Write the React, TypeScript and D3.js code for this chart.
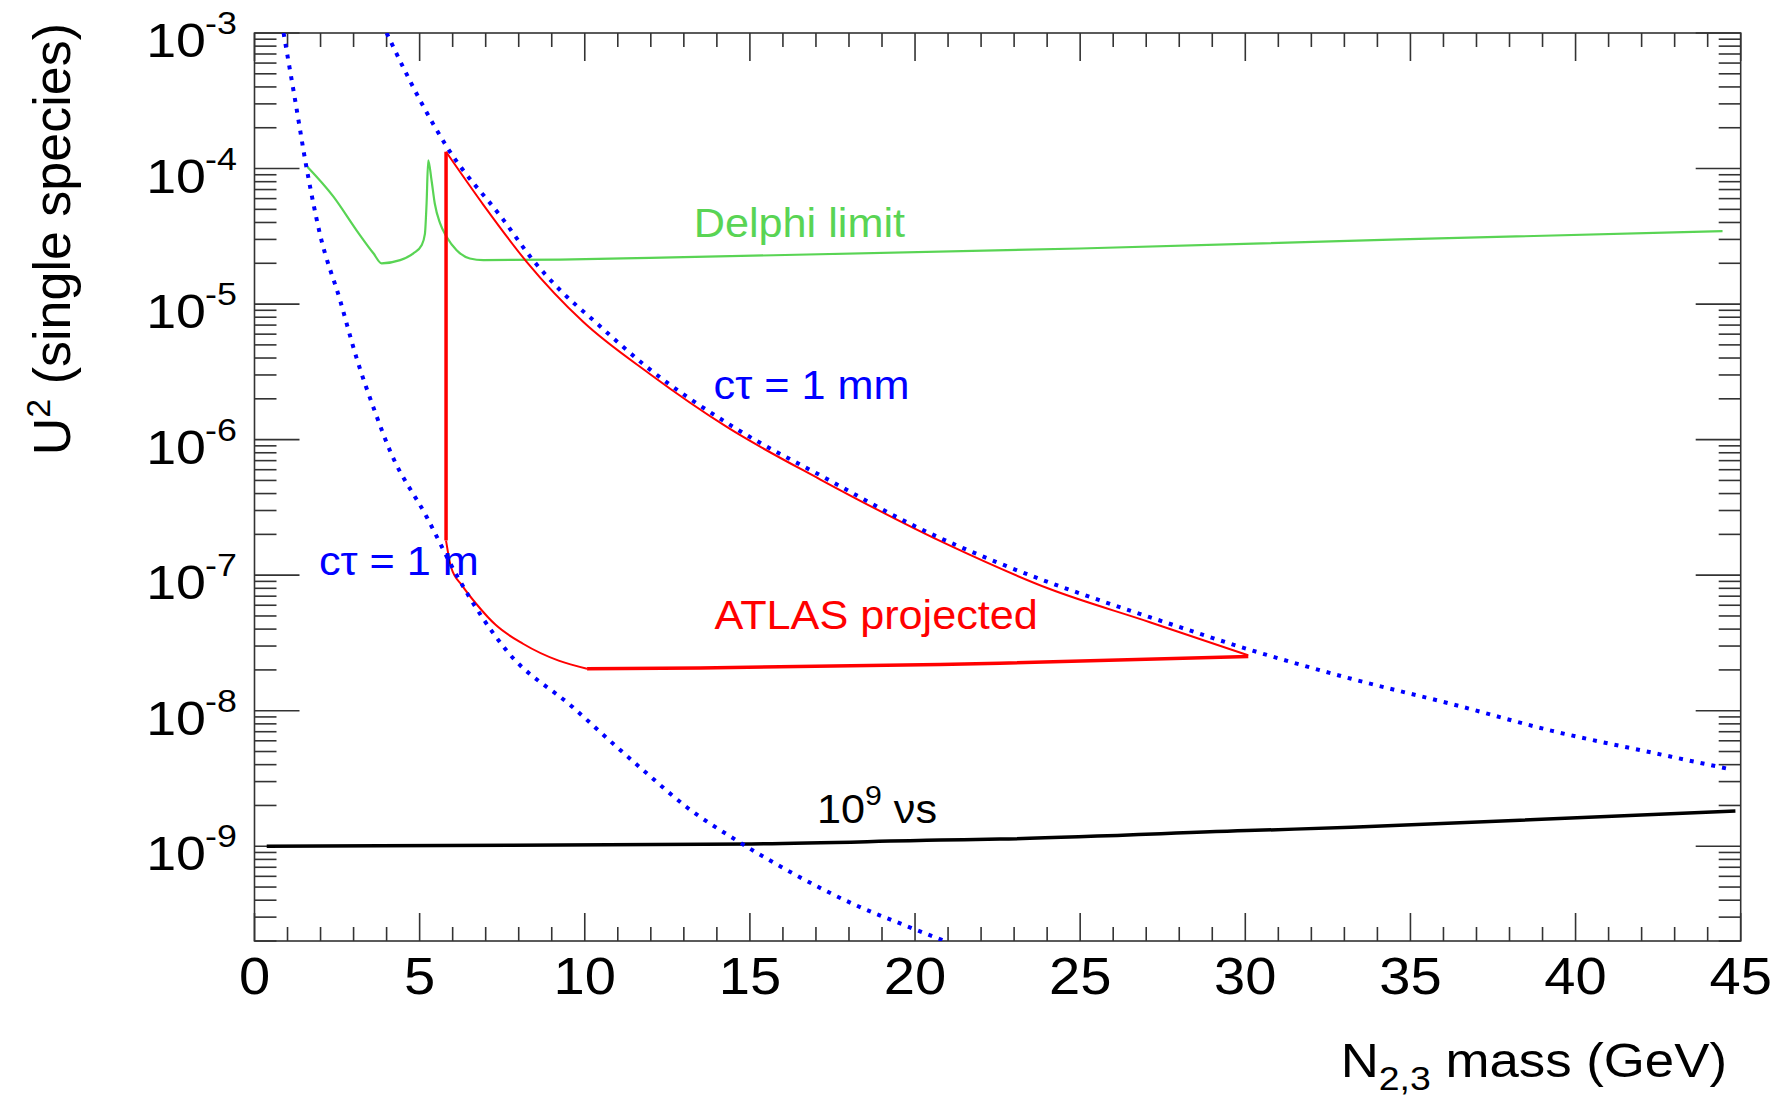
import React from "react";
import * as d3 from "d3";

// heavy neutral lepton sensitivity, U^2 vs mass (log y)
const W = 1787;
const H = 1102;

const xTickLabels = [0, 5, 10, 15, 20, 25, 30, 35, 40, 45];
const yTickExponents = [-3, -4, -5, -6, -7, -8, -9];

// [mass GeV, U^2]
const ctau1m: [number, number][] = [
  [0.88, 1.0e-3], [1.23, 3.2e-4], [1.58, 1.0e-4], [1.98, 3.3e-5],
  [2.59, 1.07e-5], [3.09, 4.0e-6], [3.65, 1.6e-6], [4.1, 8.3e-7],
  [5.21, 2.7e-7], [6.12, 1.0e-7], [7.62, 2.8e-8], [9.64, 1.06e-8],
  [10.97, 5.4e-9], [11.91, 3.4e-9], [13.09, 1.94e-9], [14.61, 1.1e-9],
  [16.33, 6.25e-10], [18.18, 3.7e-10], [19.59, 2.67e-10], [20.9, 2.0e-10],
];

const ctau1mm: [number, number][] = [
  [4.0, 1.0e-3], [5.01, 3.2e-4], [5.82, 1.45e-4], [7.53, 4.2e-5],
  [8.44, 2.1e-5], [9.25, 1.27e-5], [10.26, 7.6e-6], [11.87, 3.45e-6],
  [14.5, 1.24e-6], [17.32, 5.15e-7], [19.9, 2.36e-7], [22.57, 1.22e-7],
  [25.61, 6.5e-8], [27.11, 4.9e-8], [30.17, 2.8e-8], [33.21, 1.72e-8],
  [36.25, 1.12e-8], [39.29, 7.1e-9], [42.33, 4.9e-9], [44.68, 3.7e-9],
];

const atlasUpper: [number, number][] = [
  [5.8, 1.33e-4], [6.93, 5.4e-5], [8.24, 2.05e-5], [9.95, 7.4e-6],
  [11.97, 3.05e-6], [14.3, 1.24e-6], [17.12, 5.1e-7], [21.06, 1.65e-7],
  [24.08, 7.9e-8], [27.11, 4.5e-8], [30.09, 2.56e-8],
];

const atlasEdge: [number, number][] = [
  [5.8, 1.33e-4], [5.8, 1.8e-7],
];

const atlasLower: [number, number][] = [
  [5.8, 1.8e-7], [5.95, 1.15e-7], [6.3, 8.3e-8], [6.75, 6.0e-8],
  [7.3, 4.3e-8], [8.13, 3.12e-8], [9.21, 2.34e-8], [10.07, 2.04e-8],
];

const atlasFlat: [number, number][] = [
  [10.07, 2.04e-8], [13.49, 2.07e-8], [20.76, 2.19e-8], [22.57, 2.24e-8],
  [30.09, 2.51e-8],
];

const delphi: [number, number][] = [
  [1.6, 1.03e-4], [2.39, 6.2e-5], [3.09, 3.5e-5], [3.6, 2.37e-5],
  [3.85, 2.0e-5], [4.41, 2.11e-5], [4.81, 2.37e-5], [5.06, 2.72e-5],
  [5.16, 3.3e-5], [5.21, 5.5e-5], [5.26, 1.15e-4], [5.36, 8.2e-5],
  [5.46, 5.5e-5], [5.62, 3.94e-5], [5.82, 3.13e-5], [6.12, 2.5e-5],
  [6.52, 2.17e-5], [6.93, 2.11e-5], [9.25, 2.13e-5], [11.97, 2.19e-5],
  [24.99, 2.57e-5], [34.68, 3.0e-5], [44.45, 3.45e-5],
];

const nu1e9: [number, number][] = [
  [0.37, 1.0e-9], [3.8, 1.01e-9], [15.04, 1.04e-9], [20.76, 1.11e-9],
  [22.57, 1.13e-9], [30.3, 1.31e-9], [33.21, 1.38e-9], [44.84, 1.82e-9],
];

const FONT = "'Liberation Sans', Arial, Helvetica, sans-serif";

const SText = ({ x, y, size, sx = 1, anchor = "start", fill = "#000", children }: any) => (
  <text
    transform={`translate(${x},${y}) scale(${sx},1)`}
    fontSize={size}
    textAnchor={anchor}
    fill={fill}
    fontFamily={FONT}
  >
    {children}
  </text>
);

const App = () => {
  const left = 254.5, right = 1740.7, top = 33, bottom = 941;

  const x = d3.scaleLinear().domain([0, 45]).range([left, right]);
  const y = d3.scaleLog().domain([2e-10, 1e-3]).range([bottom, top]);

  const line = d3
    .line<[number, number]>()
    .x((d) => x(d[0]))
    .y((d) => y(d[1]))
    .curve(d3.curveMonotoneX);
  const straight = d3
    .line<[number, number]>()
    .x((d) => x(d[0]))
    .y((d) => y(d[1]));

  const yTicks = y.ticks().filter((v) => v <= 1e-3 && v >= 2e-10);
  const isMajor = (v: number) => Math.abs(Math.log10(v) - Math.round(Math.log10(v))) < 1e-6;
  const xTicks = d3.range(0, 46);

  const axisColor = "#333";
  const dots = { stroke: "#0000ff", strokeWidth: 4, strokeDasharray: "4 7" };

  return (
    <svg
      width={W}
      height={H}
      style={{ position: "absolute", left: 0, top: 0, display: "block", background: "#fff" }}
    >
      <defs>
        <clipPath id="plotArea">
          <rect x={left} y={top} width={right - left} height={bottom - top} />
        </clipPath>
      </defs>
      <rect width={W} height={H} fill="#fff" />

      {/* frame + ticks */}
      <g stroke={axisColor} strokeWidth={1.6} fill="none">
        <rect x={left} y={top} width={right - left} height={bottom - top} />
        {yTicks.map((v, i) => {
          const len = isMajor(v) ? 45 : 22;
          return (
            <g key={"y" + i}>
              <line x1={left} x2={left + len} y1={y(v)} y2={y(v)} />
              <line x1={right} x2={right - len} y1={y(v)} y2={y(v)} />
            </g>
          );
        })}
        {xTicks.map((v) => {
          const len = v % 5 === 0 ? 28 : 14;
          return (
            <g key={"x" + v}>
              <line x1={x(v)} x2={x(v)} y1={bottom} y2={bottom - len} />
              <line x1={x(v)} x2={x(v)} y1={top} y2={top + len} />
            </g>
          );
        })}
      </g>

      {/* tick labels */}
      {xTickLabels.map((v) => (
        <SText key={"xl" + v} x={x(v)} y={994} size={51} sx={1.1} anchor="middle">
          {v}
        </SText>
      ))}
      {yTickExponents.map((k) => (
        <g key={"yl" + k}>
          <SText x={206} y={y(Math.pow(10, k)) + 24} size={48} sx={1.12} anchor="end">
            10
          </SText>
          <SText x={205} y={y(Math.pow(10, k)) + 1} size={32} sx={1.12}>
            {String(k)}
          </SText>
        </g>
      ))}

      {/* axis titles */}
      <SText x={1727} y={1077} size={48} sx={1.1} anchor="end">
        N<tspan fontSize={34} dy={13}>2,3</tspan>
        <tspan dy={-13}> mass (GeV)</tspan>
      </SText>
      <text
        transform="translate(70,23) rotate(-90)"
        fontSize={52}
        textAnchor="end"
        fontFamily={FONT}
        fill="#000"
      >
        U<tspan fontSize={34} dy={-20}>2</tspan>
        <tspan dy={20}> (single species)</tspan>
      </text>

      {/* curves */}
      <g clipPath="url(#plotArea)" fill="none">
        <path d={line(nu1e9) || ""} stroke="#000" strokeWidth={3.5} />
        <path d={line(delphi) || ""} stroke="#59d454" strokeWidth={2.2} />
        <path d={line(atlasUpper) || ""} stroke="#ff0000" strokeWidth={2} />
        <path d={line(atlasLower) || ""} stroke="#ff0000" strokeWidth={2} />
        <path d={straight(atlasFlat) || ""} stroke="#ff0000" strokeWidth={3.5} />
        <path d={straight(atlasEdge) || ""} stroke="#ff0000" strokeWidth={3.5} />
        <path d={line(ctau1m) || ""} {...dots} />
        <path d={line(ctau1mm) || ""} {...dots} />
      </g>

      {/* curve labels */}
      <SText x={x(13.3)} y={y(3.1e-5)} size={40} sx={1.08} fill="#59d454">
        Delphi limit
      </SText>
      <SText x={x(13.9)} y={y(2.0e-6)} size={40} sx={1.08} fill="#0000ff">
        cτ = 1 mm
      </SText>
      <SText x={x(1.95)} y={y(1.01e-7)} size={40} sx={1.08} fill="#0000ff">
        cτ = 1 m
      </SText>
      <SText x={x(13.93)} y={y(4.03e-8)} size={40} sx={1.08} fill="#ff0000">
        ATLAS projected
      </SText>
      <SText x={x(17.03)} y={y(1.48e-9)} size={40} sx={1.08} fill="#000">
        10<tspan fontSize={28} dy={-18}>9</tspan>
        <tspan dy={18}> νs</tspan>
      </SText>
    </svg>
  );
};

export default App;
